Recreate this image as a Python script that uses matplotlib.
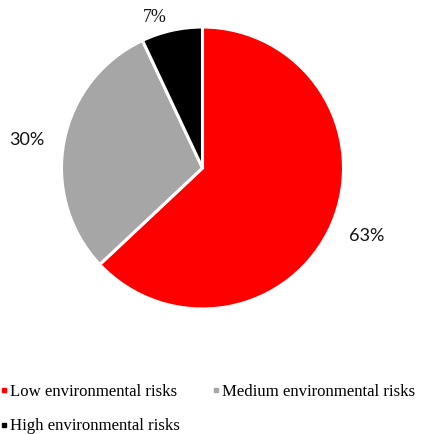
import numpy as np
import matplotlib.pyplot as plt
from matplotlib.lines import Line2D

categories = ['Low environmental risks', 'Medium environmental risks', 'High environmental risks']
shares = [63, 30, 7]
labels = ['63%', '30%', '7%']
colors = ['#ff0000', '#a6a6a6', '#000000']
label_dist = [1.26, 1.26, 1.12]
label_nudge = [0.9, 1.8, 5.1]  # degrees

fig = plt.figure(figsize=(4.22, 4.34), dpi=100)
ax = fig.add_axes([61.5 / 422, 1 - 309 / 434, 282 / 422, 282 / 434])

wedges, _ = ax.pie(shares, colors=colors, startangle=90, counterclock=False,
                   wedgeprops=dict(edgecolor='white', linewidth=2.2))
ax.set_aspect('equal')
ax.set_xlim(-1, 1)
ax.set_ylim(-1, 1)

# label fonts differ in the original: two sans, one serif
fams = ['Lato', 'Lato', 'Liberation Serif']
for w, lab, d, nd, fam in zip(wedges, labels, label_dist, label_nudge, fams):
    ang = np.deg2rad((w.theta1 + w.theta2) / 2 + nd)
    ax.text(d * np.cos(ang), d * np.sin(ang), lab, ha='center', va='center',
            fontsize=13, family=fam, color='#111111', clip_on=False)

handles = [Line2D([], [], marker='s', linestyle='none', markersize=3.5,
                  markerfacecolor=c, markeredgecolor=c) for c in colors]
# legend fills column-wise, so reorder to get Low, Medium / High
order = [0, 2, 1]
fig.legend([handles[i] for i in order], [categories[i] for i in order],
           loc='lower left', bbox_to_anchor=(-0.035, -0.036),
           ncol=2, frameon=False, prop={'family': 'Liberation Serif', 'size': 12.1},
           handlelength=0.4, handletextpad=0.15, columnspacing=2.0, labelspacing=1.08)

fig.savefig('out.png', dpi=100)
